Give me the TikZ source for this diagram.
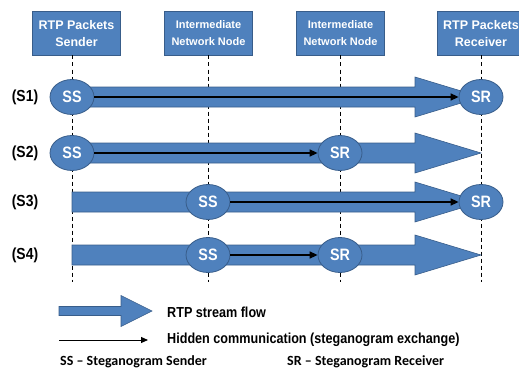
\documentclass[tikz,border=0pt]{standalone}
\usepackage{fontspec}
\setmainfont{Liberation Sans}
\newfontfamily\narrowf[FakeStretch=0.87]{Liberation Sans}
\newfontfamily\calib{Carlito}
\usetikzlibrary{shapes.geometric,arrows.meta}
\definecolor{myblue}{HTML}{4F81BD}
\definecolor{myedge}{HTML}{385D8A}
\tikzset{
  hdr/.style={rectangle, fill=myblue, draw=myedge, line width=0.8pt, text=white,
    minimum width=88pt, minimum height=43.5pt, align=center, inner sep=1pt},
  hdrA/.style={hdr, font=\bfseries\fontsize{12.5}{17.5}\selectfont},
  hdrB/.style={hdr, font=\bfseries\fontsize{11}{17}\selectfont},
  ell/.style={ellipse, fill=myblue, draw=myedge, line width=0.8pt, text=white,
    minimum width=44pt, minimum height=35pt, inner sep=0pt,
    font=\narrowf\bfseries\fontsize{16.5}{17}\selectfont},
  rowlab/.style={font=\narrowf\bfseries\fontsize{16}{17}\selectfont, inner sep=0pt},
  dashline/.style={draw=black, line width=0.8pt, dash pattern=on 4pt off 3pt},
  bigarr/.style={fill=myblue, draw=myedge, line width=0.6pt},
  hidarr/.style={draw=black, line width=1.5pt, -{Triangle[length=8pt,width=7pt]}},
  legtext/.style={anchor=base west, inner sep=0pt, font=\narrowf\bfseries\fontsize{14.5}{16}\selectfont},
  abbr/.style={anchor=base west, inner sep=0pt, font=\calib\bfseries\fontsize{14}{16}\selectfont},
}
\begin{document}
\begin{tikzpicture}[x=1pt,y=-1pt]
\useasboundingbox (0,0) rectangle (519,369);
% headers
\node[hdrA] (h1) at (76.5,33.5) {RTP Packets\\Sender};
\node[hdrB] (h2) at (208.5,33.5) {Intermediate\\Network Node};
\node[hdrB] (h3) at (340.5,33.5) {Intermediate\\Network Node};
\node[hdrA] (h4) at (481,33.5) {RTP Packets\\Receiver};
% dashed lifelines
\foreach \i/\x in {1/72,2/208,3/340,4/481}{
  \coordinate (t\i) at (\x,55.5);
  \coordinate (b\i) at (\x,282);
  \draw[dashline] (t\i) -- (b\i);
}
% big stream arrows
\foreach \y in {97,153,202,255}{
  \path[bigarr] (72,\y-10) -- (415,\y-10) -- (415,\y-20) -- (481,\y)
     -- (415,\y+20) -- (415,\y+10) -- (72,\y+10) -- cycle;
}
% row labels
\node[rowlab] (l1) at (25,97) {(S1)};
\node[rowlab] (l2) at (25,153) {(S2)};
\node[rowlab] (l3) at (25,202) {(S3)};
\node[rowlab] (l4) at (25,255) {(S4)};
% steganogram endpoints
\node[ell] (ss1) at (72,97) {SS};
\node[ell] (sr1) at (481,97) {SR};
\node[ell] (ss2) at (72,153) {SS};
\node[ell] (sr2) at (340,153) {SR};
\node[ell] (ss3) at (208,202) {SS};
\node[ell] (sr3) at (481,202) {SR};
\node[ell] (ss4) at (208,255) {SS};
\node[ell] (sr4) at (340,255) {SR};
% hidden communication
\draw[hidarr] (ss1) -- (sr1);
\draw[hidarr] (ss2) -- (sr2);
\draw[hidarr] (ss3) -- (sr3);
\draw[hidarr] (ss4) -- (sr4);
% legend
\path[bigarr] (59,306.5) -- (121,306.5) -- (121,295.5) -- (152,311)
   -- (121,326.5) -- (121,315.5) -- (59,315.5) -- cycle;
\coordinate (la) at (59,340);
\coordinate (lb) at (148,340);
\draw[draw=black, line width=1pt, -{Triangle[length=7pt,width=6pt]}] (la) -- (lb);
\node[legtext] (lt1) at (167,317) {RTP stream flow};
\node[legtext] (lt2) at (167,343.5) {Hidden communication (steganogram exchange)};
\node[abbr] (ab1) at (60,365) {SS – Steganogram Sender};
\node[abbr] (ab2) at (287,365) {SR – Steganogram Receiver};
\end{tikzpicture}
\end{document}
